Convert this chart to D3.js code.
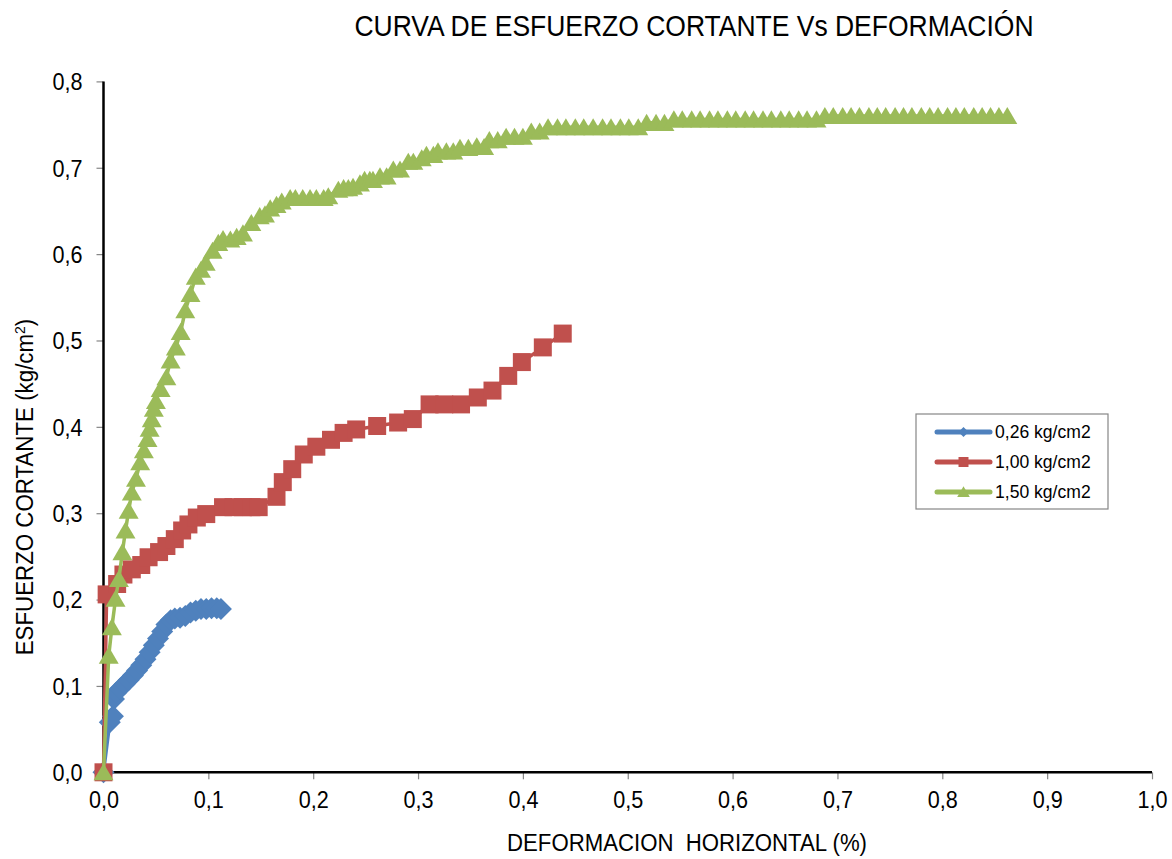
<!DOCTYPE html>
<html>
<head>
<meta charset="utf-8">
<script src="https://cdn.jsdelivr.net/npm/d3@7"></script>
<style>
  body { margin: 0; background: #fff; }
  svg text { font-family: "Liberation Sans Narrow", "Arial Narrow", "Liberation Sans", sans-serif; fill: #000; }
</style>
</head>
<body>
<svg id="chart" width="1172" height="859"></svg>
<script>
// Axis ticks
const xTickValues = [0, 0.1, 0.2, 0.3, 0.4, 0.5, 0.6, 0.7, 0.8, 0.9, 1.0];
const yTickValues = [0, 0.1, 0.2, 0.3, 0.4, 0.5, 0.6, 0.7, 0.8];

// Series (normal stress) names and colours
const seriesNames = ["0,26 kg/cm2", "1,00 kg/cm2", "1,50 kg/cm2"];
const seriesColors = ["#4F81BD", "#C0504D", "#9BBB59"];
const seriesSymbols = ["diamond", "square", "triangle"];

// 0,26 kg/cm2 : horizontal deformation (%) and shear stress (kg/cm2)
const defo026 = [0, 0.006, 0.009, 0.010, 0.012, 0.016, 0.020, 0.024, 0.028, 0.032, 0.036, 0.040,
  0.044, 0.048, 0.052, 0.056, 0.060, 0.064, 0.068, 0.073, 0.078, 0.083, 0.088, 0.093, 0.098,
  0.103, 0.108, 0.112];
const tau026 = [0, 0.058, 0.065, 0.085, 0.092, 0.097, 0.102, 0.107, 0.112, 0.118, 0.124, 0.131,
  0.139, 0.147, 0.155, 0.163, 0.171, 0.176, 0.178, 0.179, 0.181, 0.185, 0.187, 0.189, 0.189,
  0.190, 0.190, 0.189];

// 1,00 kg/cm2
const defo100 = [0, 0.003, 0.013, 0.019, 0.027, 0.036, 0.043, 0.053, 0.060, 0.068, 0.075, 0.081,
  0.089, 0.098, 0.114, 0.124, 0.133, 0.141, 0.148, 0.165, 0.171, 0.180, 0.191, 0.203, 0.217,
  0.229, 0.241, 0.261, 0.281, 0.295, 0.311, 0.325, 0.341, 0.357, 0.371, 0.386, 0.399, 0.419, 0.438];
const tau100 = [0, 0.206, 0.218, 0.229, 0.235, 0.240, 0.249, 0.255, 0.262, 0.270, 0.280, 0.287,
  0.295, 0.299, 0.307, 0.307, 0.307, 0.307, 0.307, 0.319, 0.336, 0.351, 0.368, 0.377, 0.385,
  0.393, 0.397, 0.401, 0.405, 0.409, 0.426, 0.426, 0.426, 0.434, 0.442, 0.459, 0.475, 0.492, 0.508];

// 1,50 kg/cm2
const defo150 = [0, 0.005, 0.008, 0.0115, 0.0147, 0.018, 0.021, 0.024, 0.027, 0.031, 0.035, 0.0385,
  0.042, 0.044, 0.046, 0.048, 0.050, 0.0545, 0.060, 0.064, 0.069, 0.0736, 0.078, 0.083, 0.088,
  0.093, 0.0975, 0.104, 0.1095, 0.114, 0.121, 0.127, 0.133, 0.141, 0.149, 0.154, 0.159, 0.165,
  0.170, 0.178, 0.183, 0.190, 0.197, 0.203, 0.210, 0.2144, 0.224, 0.229, 0.2335, 0.238, 0.2446,
  0.249, 0.254, 0.257, 0.2637, 0.270, 0.2764, 0.2828, 0.2907, 0.2955, 0.3035, 0.308, 0.3146,
  0.319, 0.327, 0.3336, 0.340, 0.348, 0.356, 0.363, 0.368, 0.376, 0.384, 0.392, 0.400, 0.408,
  0.416, 0.424, 0.433, 0.441, 0.450, 0.458, 0.467, 0.476, 0.484, 0.493, 0.501, 0.510, 0.518,
  0.527, 0.535, 0.544, 0.552, 0.561, 0.569, 0.578, 0.586, 0.595, 0.603, 0.612, 0.620, 0.629,
  0.637, 0.646, 0.654, 0.663, 0.671, 0.680, 0.688, 0.696, 0.705, 0.713, 0.721, 0.730, 0.738,
  0.746, 0.755, 0.763, 0.771, 0.780, 0.788, 0.796, 0.805, 0.813, 0.821, 0.830, 0.838, 0.846,
  0.854, 0.862];
const tau150 = [0, 0.135, 0.168, 0.201, 0.224, 0.255, 0.280, 0.303, 0.324, 0.340, 0.359, 0.373,
  0.386, 0.398, 0.409, 0.421, 0.430, 0.444, 0.4575, 0.477, 0.492, 0.510, 0.535, 0.554, 0.574,
  0.582, 0.590, 0.604, 0.613, 0.6175, 0.617, 0.620, 0.624, 0.636, 0.644, 0.646, 0.653, 0.657,
  0.661, 0.665, 0.665, 0.665, 0.665, 0.665, 0.665, 0.667, 0.6745, 0.6765, 0.6765, 0.678, 0.682,
  0.686, 0.686, 0.686, 0.690, 0.690, 0.698, 0.698, 0.707, 0.707, 0.711, 0.715, 0.715,
  0.719, 0.719, 0.719, 0.723, 0.723, 0.725, 0.724, 0.732, 0.732, 0.736, 0.736, 0.736, 0.742,
  0.742, 0.747, 0.747, 0.747, 0.747, 0.747, 0.747, 0.747, 0.747, 0.747, 0.747, 0.747, 0.752,
  0.752, 0.752, 0.756, 0.756, 0.756, 0.756, 0.756, 0.756, 0.756, 0.756, 0.756, 0.756, 0.756,
  0.756, 0.756, 0.756, 0.756, 0.756, 0.756, 0.760, 0.760, 0.760, 0.760, 0.760, 0.760, 0.760,
  0.760, 0.760, 0.760, 0.760, 0.760, 0.760, 0.760, 0.760, 0.760, 0.760, 0.760, 0.760, 0.760,
  0.760, 0.760];

const seriesX = [defo026, defo100, defo150];
const seriesY = [tau026, tau100, tau150];

const svg = d3.select("#chart");
const W = 1172, H = 859;
svg.append("rect").attr("width", W).attr("height", H).attr("fill", "#fff");

const plot = { left: 103.5, right: 1152, top: 81.4, bottom: 772.3 };

const x = d3.scaleLinear().domain([0, 1]).range([plot.left, plot.right]);
const y = d3.scaleLinear().domain([0, 0.8]).range([plot.bottom, plot.top]);
const fmt = v => d3.format(".1f")(v).replace(".", ",");

// Condensed lettering: horizontally squeezed text placed at (px, py)
function narrowText(parent, px, py, sx, size, anchor) {
  return parent.append("text")
    .attr("transform", `translate(${px},${py}) scale(${sx},1)`)
    .attr("text-anchor", anchor)
    .style("font-size", size + "px");
}

// Title
narrowText(svg, 694, 36, 0.883, 30, "middle")
  .text("CURVA DE ESFUERZO CORTANTE Vs DEFORMACIÓN");

// Axes
const tickScale = 0.9;
const xAxis = d3.axisBottom(x).tickValues(xTickValues).tickFormat(fmt).tickSizeOuter(0).tickSize(7).tickPadding(12);
const yAxis = d3.axisLeft(y).tickValues(yTickValues).tickFormat(fmt).tickSizeOuter(0).tickSize(7).tickPadding(14);

const gx = svg.append("g").attr("transform", `translate(0,${plot.bottom})`).call(xAxis);
const gy = svg.append("g").attr("transform", `translate(${plot.left},0)`).call(yAxis);

[gx, gy].forEach(g => {
  g.select(".domain").remove();
  g.selectAll(".tick line").attr("stroke", "#868686").attr("stroke-width", 1.2);
  g.selectAll(".tick text").style("font-size", "24px").attr("fill", "#000")
    .attr("transform", `scale(${tickScale},1)`);
});
gx.selectAll(".tick text").attr("dy", "0.71em");
gy.selectAll(".tick text").attr("dy", "0.35em").attr("x", -21 / tickScale);

svg.append("line")
  .attr("x1", plot.left).attr("x2", plot.right)
  .attr("y1", plot.bottom).attr("y2", plot.bottom)
  .attr("stroke", "#000").attr("stroke-width", 2.5);
svg.append("line")
  .attr("x1", plot.left).attr("x2", plot.left)
  .attr("y1", plot.top).attr("y2", plot.bottom)
  .attr("stroke", "#000").attr("stroke-width", 2.5);

// Axis titles
narrowText(svg, 687, 851, 0.925, 24, "middle")
  .style("white-space", "pre")
  .text("DEFORMACION  HORIZONTAL (%)");

const yt = svg.append("text")
  .attr("transform", "translate(33,487) rotate(-90) scale(0.93,1)")
  .attr("text-anchor", "middle")
  .style("font-size", "24px");
yt.append("tspan").text("ESFUERZO CORTANTE (kg/cm");
yt.append("tspan").attr("dy", "-8").style("font-size", "15px").text("2");
yt.append("tspan").attr("dy", "8").text(")");

// Symbol shapes
const symbolPath = (kind, s) => {
  if (kind === "diamond") return `M0,${-s}L${s},0L0,${s}L${-s},0Z`;
  if (kind === "square") return `M${-s},${-s}H${s}V${s}H${-s}Z`;
  return `M0,${-s * 0.95}L${s * 1.05},${s * 0.85}H${-s * 1.05}Z`;
};
const markerSize = [11, 9, 9.5];

const line = d3.line().x(d => x(d[0])).y(d => y(d[1]));

seriesNames.forEach((name, i) => {
  const pts = seriesX[i].map((v, k) => [v, seriesY[i][k]]);
  const g = svg.append("g").attr("class", "series");
  g.append("path")
    .datum(pts)
    .attr("d", line)
    .attr("fill", "none")
    .attr("stroke", seriesColors[i])
    .attr("stroke-width", 3.5)
    .attr("stroke-linejoin", "round");
  g.selectAll("path.mk").data(pts).join("path")
    .attr("class", "mk")
    .attr("transform", d => `translate(${x(d[0])},${y(d[1])})`)
    .attr("d", symbolPath(seriesSymbols[i], markerSize[i]))
    .attr("fill", seriesColors[i]);
});

// Legend
const lg = svg.append("g").attr("transform", "translate(916,414)");
lg.append("rect").attr("width", 192).attr("height", 95)
  .attr("fill", "#fff").attr("stroke", "#868686").attr("stroke-width", 1.2);
seriesNames.forEach((name, i) => {
  const cy = 18 + i * 30;
  lg.append("line").attr("x1", 21).attr("x2", 74).attr("y1", cy).attr("y2", cy)
    .attr("stroke", seriesColors[i]).attr("stroke-width", 5).attr("stroke-linecap", "round");
  lg.append("path").attr("transform", `translate(47.5,${cy})`)
    .attr("d", symbolPath(seriesSymbols[i], [5, 5, 6][i]))
    .attr("fill", seriesColors[i]);
  narrowText(lg, 79, cy, 0.95, 18.5, "start").attr("dy", "0.35em").text(name);
});
</script>
</body>
</html>
